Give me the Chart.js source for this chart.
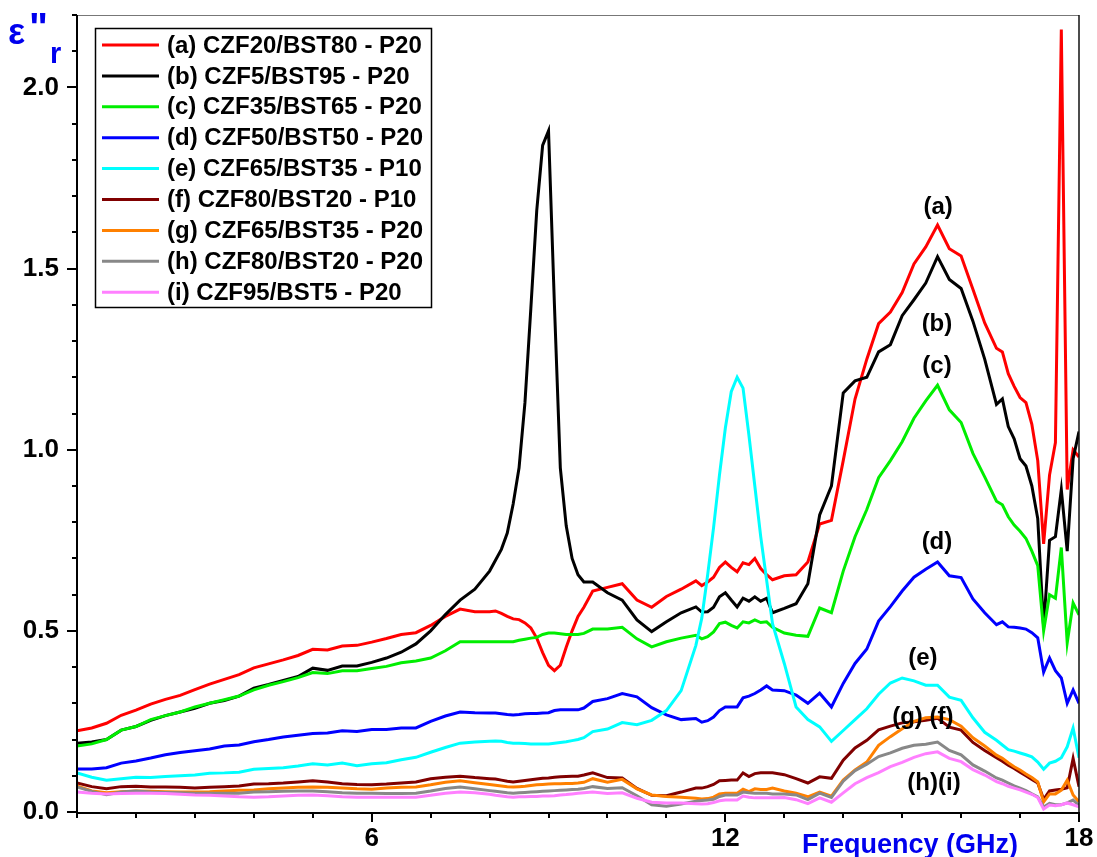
<!DOCTYPE html>
<html><head><meta charset="utf-8">
<script src="https://cdn.jsdelivr.net/npm/chart.js@4.4.0/dist/chart.umd.min.js"></script>
<style>html,body{margin:0;padding:0;background:#fff;}canvas{display:block;}</style>
</head><body>
<canvas id="c" width="1097" height="857"></canvas>
<script>
// ---- data (frequency in GHz, epsilon'' values) ----
const freq = [1,1.25,1.5,1.75,2,2.25,2.5,2.75,3,3.25,3.5,3.75,4,4.25,4.5,4.75,5,5.25,5.5,5.75,6,6.25,6.5,6.75,7,7.25,7.5,7.75,8,
  8.1,8.2,8.3,8.4,8.5,8.6,8.7,8.8,8.9,9,9.1,9.2,9.3,9.4,9.5,9.6,
  9.75,10,10.25,10.5,10.75,11,11.25,11.5,
  11.6,11.7,11.8,11.9,12,12.1,12.2,12.3,12.4,12.5,12.6,12.7,12.8,
  13,13.2,13.4,13.6,13.8,14,14.2,14.4,14.6,14.8,15,15.2,15.4,15.6,15.8,16,16.2,16.4,
  16.6,16.7,16.8,16.9,17,17.1,17.2,17.3,17.4,17.5,17.6,17.7,17.8,17.9,18];

const sA = [0.224,0.232,0.245,0.267,0.281,0.298,0.311,0.322,0.338,0.353,0.366,0.379,0.398,0.409,0.42,0.432,0.449,0.447,0.458,0.46,0.469,0.479,0.49,0.495,0.515,0.54,0.56,0.553,0.553,
  0.555,0.548,0.54,0.533,0.531,0.522,0.508,0.48,0.44,0.405,0.39,0.405,0.455,0.50,0.54,0.565,
  0.61,0.62,0.63,0.585,0.565,0.595,0.615,0.638,
  0.625,0.635,0.648,0.675,0.69,0.675,0.663,0.688,0.683,0.70,0.672,0.655,0.641,
  0.652,0.655,0.69,0.795,0.805,0.97,1.14,1.25,1.348,1.38,1.434,1.513,1.56,1.62,1.555,1.535,1.443,1.35,
  1.28,1.27,1.21,1.175,1.144,1.13,1.07,0.97,0.74,0.93,1.02,2.16,0.89,1.0,0.98];

const sB = [0.19,0.193,0.20,0.226,0.236,0.253,0.266,0.276,0.286,0.30,0.308,0.32,0.342,0.352,0.363,0.374,0.397,0.391,0.403,0.403,0.413,0.425,0.441,0.464,0.50,0.545,0.585,0.615,0.665,
  0.695,0.725,0.77,0.85,0.95,1.13,1.39,1.66,1.84,1.88,1.40,0.95,0.79,0.70,0.655,0.635,
  0.635,0.605,0.585,0.53,0.498,0.525,0.55,0.566,
  0.552,0.553,0.565,0.594,0.605,0.585,0.566,0.59,0.582,0.594,0.582,0.59,0.55,
  0.562,0.575,0.63,0.82,0.90,1.157,1.19,1.20,1.27,1.29,1.37,1.414,1.46,1.533,1.47,1.445,1.355,1.25,
  1.125,1.14,1.064,1.03,0.975,0.955,0.90,0.81,0.51,0.75,0.76,0.89,0.72,0.975,1.05];

const sC = [0.182,0.188,0.20,0.226,0.236,0.255,0.266,0.276,0.29,0.30,0.31,0.32,0.337,0.35,0.36,0.371,0.385,0.382,0.39,0.39,0.396,0.402,0.412,0.417,0.425,0.445,0.47,0.47,0.47,
  0.47,0.47,0.47,0.47,0.474,0.477,0.48,0.482,0.49,0.494,0.494,0.492,0.49,0.49,0.49,0.493,
  0.505,0.505,0.51,0.478,0.456,0.47,0.48,0.488,
  0.478,0.484,0.497,0.52,0.524,0.515,0.508,0.525,0.522,0.53,0.523,0.525,0.51,
  0.494,0.488,0.485,0.563,0.55,0.665,0.76,0.835,0.923,0.97,1.022,1.087,1.135,1.178,1.11,1.075,0.99,0.925,
  0.858,0.848,0.815,0.792,0.775,0.755,0.72,0.68,0.50,0.60,0.59,0.73,0.467,0.577,0.544];

const sD = [0.119,0.119,0.122,0.135,0.141,0.149,0.158,0.164,0.169,0.174,0.182,0.185,0.194,0.2,0.207,0.212,0.217,0.218,0.224,0.222,0.228,0.228,0.232,0.232,0.25,0.265,0.276,0.274,0.273,
  0.273,0.271,0.269,0.268,0.269,0.271,0.272,0.272,0.273,0.274,0.28,0.282,0.282,0.282,0.282,0.287,
  0.305,0.313,0.327,0.318,0.288,0.268,0.255,0.258,
  0.248,0.252,0.262,0.28,0.29,0.29,0.29,0.315,0.32,0.327,0.337,0.348,0.337,
  0.335,0.323,0.30,0.328,0.29,0.355,0.41,0.45,0.527,0.567,0.61,0.648,0.67,0.69,0.652,0.647,0.588,0.55,
  0.517,0.525,0.511,0.51,0.508,0.505,0.495,0.481,0.386,0.425,0.39,0.37,0.30,0.337,0.30];

const sE = [0.108,0.096,0.088,0.092,0.096,0.095,0.098,0.1,0.102,0.107,0.108,0.11,0.118,0.12,0.122,0.127,0.133,0.13,0.135,0.128,0.133,0.136,0.144,0.151,0.165,0.178,0.19,0.193,0.195,
  0.196,0.195,0.192,0.19,0.19,0.189,0.188,0.188,0.188,0.188,0.19,0.192,0.194,0.197,0.2,0.205,
  0.222,0.229,0.247,0.241,0.253,0.28,0.335,0.46,
  0.535,0.655,0.785,0.93,1.06,1.16,1.20,1.17,1.04,0.90,0.76,0.64,0.52,
  0.41,0.29,0.255,0.235,0.195,0.225,0.255,0.285,0.325,0.356,0.37,0.362,0.35,0.35,0.317,0.308,0.26,0.22,
  0.198,0.185,0.172,0.168,0.163,0.158,0.152,0.138,0.118,0.135,0.14,0.15,0.18,0.232,0.15];

const sF = [0.08,0.07,0.064,0.07,0.071,0.069,0.069,0.068,0.066,0.068,0.07,0.072,0.077,0.078,0.08,0.083,0.086,0.083,0.078,0.076,0.075,0.077,0.08,0.083,0.092,0.096,0.099,0.095,0.092,
  0.091,0.088,0.085,0.083,0.085,0.087,0.089,0.091,0.093,0.094,0.096,0.097,0.098,0.099,0.099,0.102,
  0.108,0.095,0.094,0.065,0.046,0.045,0.055,0.066,
  0.066,0.07,0.076,0.086,0.087,0.088,0.088,0.108,0.098,0.106,0.108,0.108,0.108,
  0.103,0.092,0.08,0.097,0.093,0.143,0.177,0.198,0.227,0.237,0.246,0.249,0.253,0.259,0.234,0.226,0.192,0.17,
  0.15,0.14,0.129,0.12,0.11,0.1,0.09,0.08,0.035,0.058,0.061,0.063,0.067,0.148,0.07];

const sG = [0.072,0.058,0.053,0.056,0.058,0.057,0.056,0.055,0.055,0.056,0.058,0.06,0.061,0.064,0.066,0.068,0.069,0.068,0.066,0.064,0.063,0.066,0.068,0.069,0.075,0.082,0.086,0.081,0.076,
  0.074,0.072,0.07,0.069,0.07,0.071,0.073,0.075,0.076,0.077,0.078,0.078,0.079,0.079,0.08,0.082,
  0.092,0.082,0.09,0.064,0.047,0.043,0.041,0.038,
  0.036,0.037,0.041,0.05,0.052,0.052,0.052,0.063,0.056,0.064,0.062,0.062,0.066,
  0.058,0.052,0.042,0.055,0.044,0.088,0.116,0.138,0.184,0.208,0.23,0.25,0.26,0.262,0.255,0.237,0.205,0.182,
  0.157,0.148,0.136,0.125,0.116,0.105,0.095,0.083,0.028,0.05,0.05,0.06,0.088,0.047,0.028];

const sH = [0.069,0.057,0.048,0.055,0.058,0.055,0.054,0.053,0.052,0.052,0.052,0.052,0.055,0.056,0.057,0.058,0.058,0.056,0.053,0.052,0.052,0.051,0.051,0.052,0.058,0.065,0.069,0.064,0.059,
  0.057,0.055,0.053,0.052,0.053,0.054,0.055,0.056,0.057,0.058,0.059,0.06,0.061,0.062,0.063,0.065,
  0.07,0.065,0.067,0.045,0.02,0.016,0.022,0.03,
  0.032,0.033,0.035,0.043,0.047,0.047,0.047,0.055,0.053,0.052,0.052,0.052,0.05,
  0.05,0.047,0.034,0.052,0.04,0.085,0.114,0.132,0.153,0.163,0.176,0.184,0.187,0.193,0.17,0.158,0.13,0.113,
  0.094,0.088,0.08,0.072,0.066,0.059,0.05,0.042,0.014,0.024,0.02,0.02,0.025,0.033,0.019];

const sI = [0.055,0.052,0.05,0.051,0.052,0.052,0.051,0.049,0.047,0.046,0.044,0.042,0.041,0.042,0.044,0.046,0.047,0.045,0.042,0.041,0.041,0.041,0.041,0.041,0.046,0.052,0.055,0.053,0.049,
  0.046,0.044,0.042,0.041,0.042,0.042,0.043,0.043,0.044,0.044,0.045,0.047,0.048,0.05,0.052,0.053,
  0.055,0.051,0.053,0.038,0.027,0.025,0.025,0.023,
  0.022,0.023,0.026,0.031,0.033,0.033,0.033,0.044,0.041,0.039,0.039,0.039,0.039,
  0.04,0.034,0.023,0.039,0.027,0.053,0.078,0.095,0.109,0.125,0.137,0.151,0.161,0.166,0.148,0.139,0.117,0.102,
  0.084,0.078,0.071,0.066,0.061,0.055,0.049,0.04,0.008,0.019,0.017,0.02,0.025,0.02,0.014];

const seriesLabels = ['(a) CZF20/BST80 - P20','(b) CZF5/BST95 - P20','(c) CZF35/BST65 - P20','(d) CZF50/BST50 - P20',
  '(e) CZF65/BST35 - P10','(f) CZF80/BST20 - P10','(g) CZF65/BST35 - P20','(h) CZF80/BST20 - P20','(i) CZF95/BST5 - P20'];
const seriesColors = ['#ff0000','#000000','#00ee00','#0000ff','#00ffff','#800000','#ff8000','#888888','#ff80ff'];
const seriesValues = [sA,sB,sC,sD,sE,sF,sG,sH,sI];

const xTickLabels = [6,12,18];
const yTickLabels = [0,0.5,1.0,1.5,2.0];

const curveTags = [
  {text:'(a)', f:15.61, v:1.669},
  {text:'(b)', f:15.59, v:1.345},
  {text:'(c)', f:15.59, v:1.229},
  {text:'(d)', f:15.59, v:0.743},
  {text:'(e)', f:15.35, v:0.425},
  {text:'(g) (f)', f:15.35, v:0.262},
  {text:'(h)(i)', f:15.54, v:0.080}
];

// ---- drawing ----
const FONT = "Arial, 'Liberation Sans', Helvetica, sans-serif";
const BLUE = '#0000ee';
Chart.defaults.font.family = FONT;

const isIn = (arr, v) => arr.some(t => Math.abs(t - v) < 1e-6);

const deco = {
  id: 'deco',
  afterDraw(chart) {
    const ctx = chart.ctx, a = chart.chartArea, xs = chart.scales.x, ys = chart.scales.y;
    ctx.save();
    ctx.lineCap = 'butt';
    ctx.strokeStyle = '#777'; ctx.lineWidth = 1;
    ctx.beginPath(); ctx.moveTo(a.left, a.top + 0.5); ctx.lineTo(a.right, a.top + 0.5); ctx.stroke();
    ctx.strokeStyle = '#111'; ctx.lineWidth = 1.5;
    ctx.beginPath(); ctx.moveTo(a.right, a.top); ctx.lineTo(a.right, a.bottom); ctx.stroke();
    ctx.strokeStyle = '#000'; ctx.lineWidth = 2;
    ctx.beginPath(); ctx.moveTo(a.left, a.top); ctx.lineTo(a.left, a.bottom + 1); ctx.lineTo(a.right, a.bottom + 1); ctx.stroke();
    ctx.lineWidth = 2; ctx.strokeStyle = '#000';
    ys.ticks.forEach(t => {
      const p = Math.round(ys.getPixelForValue(t.value));
      const len = isIn(yTickLabels, t.value) ? 10 : 5;
      ctx.beginPath(); ctx.moveTo(a.left, p); ctx.lineTo(a.left - len, p); ctx.stroke();
    });
    xs.ticks.forEach(t => {
      const p = Math.round(xs.getPixelForValue(t.value));
      const len = isIn(xTickLabels, t.value) ? 10 : 6;
      ctx.beginPath(); ctx.moveTo(p, a.bottom); ctx.lineTo(p, a.bottom + len); ctx.stroke();
    });
    // legend
    const lx = 95.5, ly = 28.5, lw = 336, lh = 279;
    ctx.fillStyle = '#fff';
    ctx.fillRect(lx, ly, lw, lh);
    ctx.strokeStyle = '#000'; ctx.lineWidth = 1.5;
    ctx.strokeRect(lx, ly, lw, lh);
    ctx.font = 'bold 24px ' + FONT;
    ctx.textBaseline = 'middle'; ctx.textAlign = 'left';
    chart.data.datasets.forEach((ds, i) => {
      const y = 45 + i * 30.9;
      ctx.strokeStyle = ds.borderColor; ctx.lineWidth = 3;
      ctx.beginPath(); ctx.moveTo(102, y); ctx.lineTo(159, y); ctx.stroke();
      ctx.fillStyle = '#000';
      ctx.fillText(ds.label, 167, y + 1);
    });
    // curve tags
    ctx.textAlign = 'center'; ctx.fillStyle = '#000';
    ctx.font = 'bold 24px ' + FONT;
    curveTags.forEach(c => {
      ctx.fillText(c.text, xs.getPixelForValue(c.f), ys.getPixelForValue(c.v));
    });
    // axis titles
    ctx.fillStyle = BLUE; ctx.textAlign = 'left'; ctx.textBaseline = 'alphabetic';
    ctx.font = 'bold 36px ' + FONT; ctx.fillText('\u03b5', 8, 44);
    ctx.font = 'bold 40px ' + FONT; ctx.fillText('"', 29, 41);
    ctx.font = 'bold 29px ' + FONT; ctx.fillText('r', 50, 63);
    ctx.font = 'bold 27px ' + FONT; ctx.fillText('Frequency (GHz)', 802, 853);
    ctx.restore();
  }
};

const datasets = seriesValues.map((vals, i) => ({
  label: seriesLabels[i],
  data: freq.map((f, k) => ({x: f, y: vals[k]})),
  borderColor: seriesColors[i],
  backgroundColor: seriesColors[i],
  borderWidth: 3,
  pointRadius: 0,
  tension: 0,
  fill: false,
  order: seriesValues.length - i
}));

new Chart(document.getElementById('c'), {
  type: 'line',
  data: { datasets },
  options: {
    responsive: false,
    animation: false,
    devicePixelRatio: 1,
    layout: { padding: { left: 0, right: 18, top: 15, bottom: 0 } },
    plugins: { legend: { display: false }, tooltip: { enabled: false } },
    scales: {
      x: {
        type: 'linear', min: 1, max: 18,
        grid: { display: false, drawTicks: false },
        border: { display: false },
        ticks: {
          stepSize: 1, autoSkip: false, maxRotation: 0, padding: 11,
          color: '#000', font: { size: 26, weight: 'bold' },
          callback: v => isIn(xTickLabels, v) ? String(v) : ''
        },
        afterFit: s => { s.height = 45; s.paddingLeft = 0; s.paddingRight = 0; }
      },
      y: {
        type: 'linear', min: 0, max: 2.2,
        grid: { display: false, drawTicks: false },
        border: { display: false },
        ticks: {
          stepSize: 0.1, autoSkip: false, padding: 18,
          color: '#000', font: { size: 26, weight: 'bold' },
          callback: v => isIn(yTickLabels, v) ? v.toFixed(1) : ''
        },
        afterFit: s => { s.width = 77; s.paddingTop = 0; s.paddingBottom = 0; }
      }
    }
  },
  plugins: [deco]
});
</script>
</body></html>
